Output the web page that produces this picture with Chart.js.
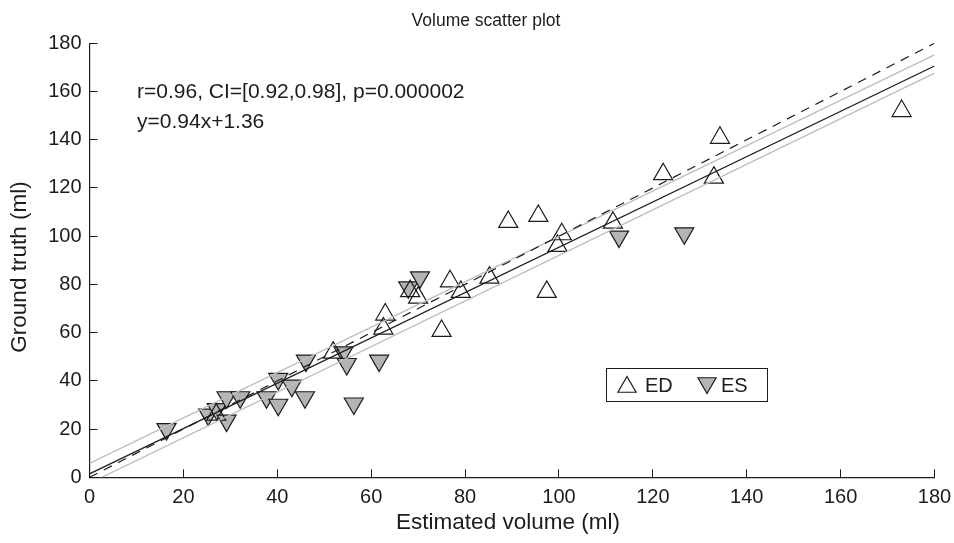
<!DOCTYPE html>
<html>
<head>
<meta charset="utf-8">
<script src="https://cdn.jsdelivr.net/npm/chart.js@4.4.1/dist/chart.umd.min.js"></script>
<style>
  html, body { margin: 0; padding: 0; background: #fff; }
  #wrap { width: 954px; height: 543px; }
</style>
</head>
<body>
<div id="wrap"><canvas id="myChart" width="954" height="543"></canvas></div>
<script>
// ED points (end diastole)
var edX = [27, 51.9, 62.6, 63, 68.3, 70, 75, 76.8, 79.1, 85.2, 89.2, 95.6, 97.4, 99.7, 100.6, 111.5, 122.2, 133, 134.3, 173];
var edY = [26, 51.7, 61.7, 67.5, 77.2, 74.5, 60.7, 81.3, 76.9, 82.8, 105.9, 108.4, 76.9, 96, 100.8, 105.6, 125.7, 124.3, 140.8, 151.9];

// ES points (end systole)
var esX = [16.4, 25.3, 27.1, 29.2, 29.2, 32.1, 37.7, 40.2, 40.2, 43.1, 45.9, 46.1, 54.1, 54.8, 56.3, 61.7, 67.9, 70.4, 112.8, 126.7];
var esY = [20, 26, 28.3, 33.2, 23.5, 33.2, 33.2, 30.1, 40.8, 38, 33.2, 48.4, 51.8, 47, 30.6, 48.4, 78.8, 82.9, 99.8, 101.2];

// reference lines (end points)
var lineX = [0, 180];
var identityY = [0, 180];
var fitY = [1.4, 170.6];
var upperY = [5.8, 175.2];
var lowerY = [-2.5, 167.6];

var xTicks = [0, 20, 40, 60, 80, 100, 120, 140, 160, 180];
var yTicks = [0, 20, 40, 60, 80, 100, 120, 140, 160, 180];

var titleText = "Volume scatter plot";
var xTitle = "Estimated volume (ml)";
var yTitle = "Ground truth (ml)";
var statText = ["r=0.96, CI=[0.92,0.98], p=0.000002", "y=0.94x+1.36"];
var legendLabels = ["ED", "ES"];

var FONT = "'Liberation Sans', Arial, Helvetica, sans-serif";
var INK = "#1c1c1c";

function pairs(xs, ys) {
  return xs.map(function (x, i) { return { x: x, y: ys[i] }; });
}

function tri(ctx, x, y, r, down) {
  var s = down ? -1 : 1;
  ctx.beginPath();
  ctx.moveTo(x, y - s * r);
  ctx.lineTo(x + r * 0.866, y + s * r / 2);
  ctx.lineTo(x - r * 0.866, y + s * r / 2);
  ctx.closePath();
}

// titles, stats text and legend box
var extras = {
  id: "extras",
  afterDraw: function (chart) {
    var ctx = chart.ctx;
    ctx.save();
    ctx.fillStyle = INK;
    ctx.textBaseline = "middle";

    ctx.textAlign = "center";
    ctx.font = "17.5px " + FONT;
    ctx.fillText(titleText, 486, 21);
    ctx.font = "22.5px " + FONT;
    ctx.fillText(xTitle, 508, 523);
    ctx.save();
    ctx.translate(20, 267);
    ctx.rotate(-Math.PI / 2);
    ctx.fillText(yTitle, 0, 0);
    ctx.restore();

    ctx.textAlign = "left";
    ctx.font = "21px " + FONT;
    ctx.fillText(statText[0], 137, 92);
    ctx.fillText(statText[1], 137, 122);

    // legend
    ctx.fillStyle = "#fff";
    ctx.fillRect(606.5, 368.5, 161, 33);
    ctx.strokeStyle = INK;
    ctx.lineWidth = 1;
    ctx.strokeRect(606.5, 368.5, 161, 33);
    tri(ctx, 627, 387, 10.5, false);
    ctx.lineWidth = 1.2;
    ctx.stroke();
    tri(ctx, 707, 383, 10.5, true);
    ctx.fillStyle = "#b4b4b4";
    ctx.fill();
    ctx.stroke();
    ctx.fillStyle = INK;
    ctx.font = "20px " + FONT;
    ctx.fillText(legendLabels[0], 645, 386);
    ctx.fillText(legendLabels[1], 721, 386);
    ctx.restore();
  }
};

var ctx = document.getElementById("myChart").getContext("2d");
var chart = new Chart(ctx, {
  type: "scatter",
  data: {
    datasets: [
      {
        label: "identity", type: "line", data: pairs(lineX, identityY),
        borderColor: INK, borderWidth: 1.2, borderDash: [9, 7], pointRadius: 0, order: 0
      },
      {
        label: "upper", type: "line", data: pairs(lineX, upperY),
        borderColor: "#bdbdbd", borderWidth: 1.3, pointRadius: 0, order: 0
      },
      {
        label: "lower", type: "line", data: pairs(lineX, lowerY),
        borderColor: "#bdbdbd", borderWidth: 1.3, pointRadius: 0, order: 0
      },
      {
        label: "fit", type: "line", data: pairs(lineX, fitY),
        borderColor: INK, borderWidth: 1.3, pointRadius: 0, order: 0
      },
      {
        label: "ED", data: pairs(edX, edY),
        pointStyle: "triangle", pointRadius: 11, pointHoverRadius: 11,
        backgroundColor: "rgba(0,0,0,0)", borderColor: INK, borderWidth: 1.2, order: 1
      },
      {
        label: "ES", data: pairs(esX, esY),
        pointStyle: "triangle", pointRotation: 180, pointRadius: 11, pointHoverRadius: 11,
        backgroundColor: "#b4b4b4", borderColor: INK, borderWidth: 1.2, order: 2
      }
    ]
  },
  options: {
    responsive: false,
    animation: false,
    devicePixelRatio: 1,
    layout: { padding: { left: 0, right: 19.5, top: 43.3, bottom: 0 } },
    plugins: {
      legend: { display: false },
      tooltip: { enabled: false },
      title: { display: false }
    },
    scales: {
      x: {
        type: "linear", min: 0, max: 180,
        afterBuildTicks: function (s) { s.ticks = xTicks.map(function (v) { return { value: v }; }); },
        ticks: { color: INK, font: { family: FONT, size: 20 }, padding: 16, maxRotation: 0 },
        grid: { drawOnChartArea: false, drawTicks: true, tickLength: -8, color: INK, tickWidth: 1 },
        border: { display: true, color: INK, width: 1.2 },
        afterFit: function (s) { s.height = 65.7; s.paddingLeft = 0; s.paddingRight = 0; }
      },
      y: {
        type: "linear", min: 0, max: 180,
        afterBuildTicks: function (s) { s.ticks = yTicks.map(function (v) { return { value: v }; }); },
        ticks: { color: INK, font: { family: FONT, size: 20 }, padding: 16 },
        grid: { drawOnChartArea: false, drawTicks: true, tickLength: -8, color: INK, tickWidth: 1 },
        border: { display: true, color: INK, width: 1.2 },
        afterFit: function (s) { s.width = 89.5; s.paddingTop = 0; s.paddingBottom = 0; }
      }
    }
  },
  plugins: [extras]
});
</script>
</body>
</html>
